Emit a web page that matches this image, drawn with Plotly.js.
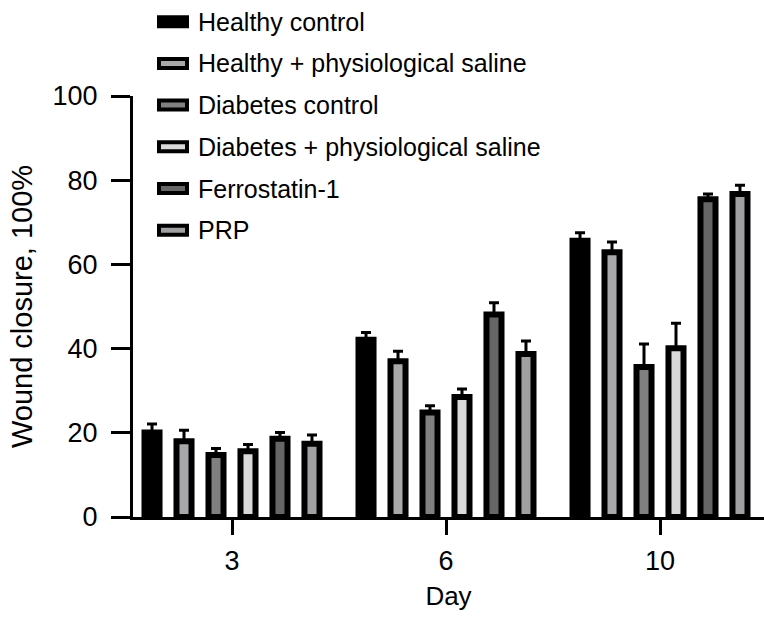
<!DOCTYPE html>
<html>
<head>
<meta charset="utf-8">
<script src="https://cdn.plot.ly/plotly-3.0.1.min.js"></script>
<style>html,body{margin:0;padding:0;background:#fff;}#chart{width:764px;height:620px;}</style>
</head>
<body>
<div id="chart"></div>
<script>
// ---- data ----
const days = ["3", "6", "10"];
const seriesNames = [
  "Healthy control",
  "Healthy + physiological saline",
  "Diabetes control",
  "Diabetes + physiological saline",
  "Ferrostatin-1",
  "PRP"
];
const seriesColors = ["#000000", "#a8a8aa", "#808080", "#d9d9d9", "#666666", "#a0a0a2"];
const healthyControl   = [20.1, 42.1, 65.6];
const healthySaline    = [18.0, 37.0, 62.9];
const diabetesControl  = [14.7, 24.8, 35.6];
const diabetesSaline   = [15.6, 28.5, 40.1];
const ferrostatin      = [18.6, 48.1, 75.5];
const prp              = [17.4, 38.7, 76.7];
const errHealthyControl  = [2.0, 1.7, 1.9];
const errHealthySaline   = [2.6, 2.4, 2.4];
const errDiabetesControl = [1.6, 1.6, 5.5];
const errDiabetesSaline  = [1.6, 1.9, 5.9];
const errFerrostatin     = [1.5, 2.8, 1.2];
const errPrp             = [2.1, 3.1, 2.1];
const yTickVals = [0, 20, 40, 60, 80, 100];

const values = [healthyControl, healthySaline, diabetesControl, diabetesSaline, ferrostatin, prp];
const errors = [errHealthyControl, errHealthySaline, errDiabetesControl, errDiabetesSaline, errFerrostatin, errPrp];

const FONT = "Liberation Sans, Arial, Helvetica, sans-serif";

const traces = seriesNames.map((name, i) => ({
  type: "bar",
  name: name,
  x: days,
  y: values[i],
  marker: { color: seriesColors[i], line: { color: "#000", width: 6 } },
  error_y: {
    type: "data", symmetric: false, array: errors[i],
    arrayminus: errors[i].map(() => 0),
    color: "#000", thickness: 3, width: 5
  },
  showlegend: false,
  hoverinfo: "skip"
}));

// plot area geometry (pixels)
const W = 764, H = 620;
const mL = 133, mR = 0, mT = 96, mB = 103;
const pw = W - mL - mR, ph = H - mT - mB;
const px2paperX = px => (px - mL) / pw;
const py2paperY = py => (H - mB - py) / ph;

// custom legend: wide swatches + text
const legendRowY0 = 21.7, legendRowStep = 41.7;
const shapes = [];
const annotations = [];
seriesNames.forEach((name, i) => {
  const cy = legendRowY0 + i * legendRowStep;
  shapes.push({
    type: "rect", xref: "paper", yref: "paper",
    x0: px2paperX(159), x1: px2paperX(187),
    y0: py2paperY(cy - 4.5), y1: py2paperY(cy + 4.5),
    fillcolor: seriesColors[i],
    line: { color: "#000", width: 4 }
  });
  annotations.push({
    xref: "paper", yref: "paper",
    x: px2paperX(196), y: py2paperY(cy),
    xanchor: "left", yanchor: "middle",
    text: name, showarrow: false,
    font: { family: FONT, size: 25, color: "#000" }
  });
});

const layout = {
  width: W, height: H,
  margin: { l: mL, r: mR, t: mT, b: mB, pad: 0 },
  paper_bgcolor: "#fff", plot_bgcolor: "#fff",
  barmode: "group",
  bargap: 0.103,
  bargroupgap: 0.53,
  showlegend: false,
  font: { family: FONT, color: "#000" },
  xaxis: {
    type: "category",
    range: [(mL - 232) / 214, (mL - 232) / 214 + pw / 214],
    showline: true, linecolor: "#000", linewidth: 3,
    ticks: "outside", ticklen: 15, tickwidth: 3, tickcolor: "#000",
    showgrid: false, zeroline: false,
    tickfont: { family: FONT, size: 27, color: "#000" },
    ticklabelstandoff: 3,
    title: { text: "Day", font: { family: FONT, size: 26, color: "#000" }, standoff: 12 },
    fixedrange: true
  },
  yaxis: {
    range: [0, 100],
    tickvals: yTickVals,
    showline: true, linecolor: "#000", linewidth: 3,
    ticks: "outside", ticklen: 19, tickwidth: 3, tickcolor: "#000",
    showgrid: false, zeroline: false,
    tickfont: { family: FONT, size: 27, color: "#000" },
    ticklabelstandoff: 8,
    title: { text: "Wound closure, 100%", font: { family: FONT, size: 29, color: "#000" }, standoff: 12 },
    fixedrange: true
  },
  shapes: shapes,
  annotations: annotations
};

Plotly.newPlot("chart", traces, layout, { displayModeBar: false, staticPlot: true });
</script>
</body>
</html>
